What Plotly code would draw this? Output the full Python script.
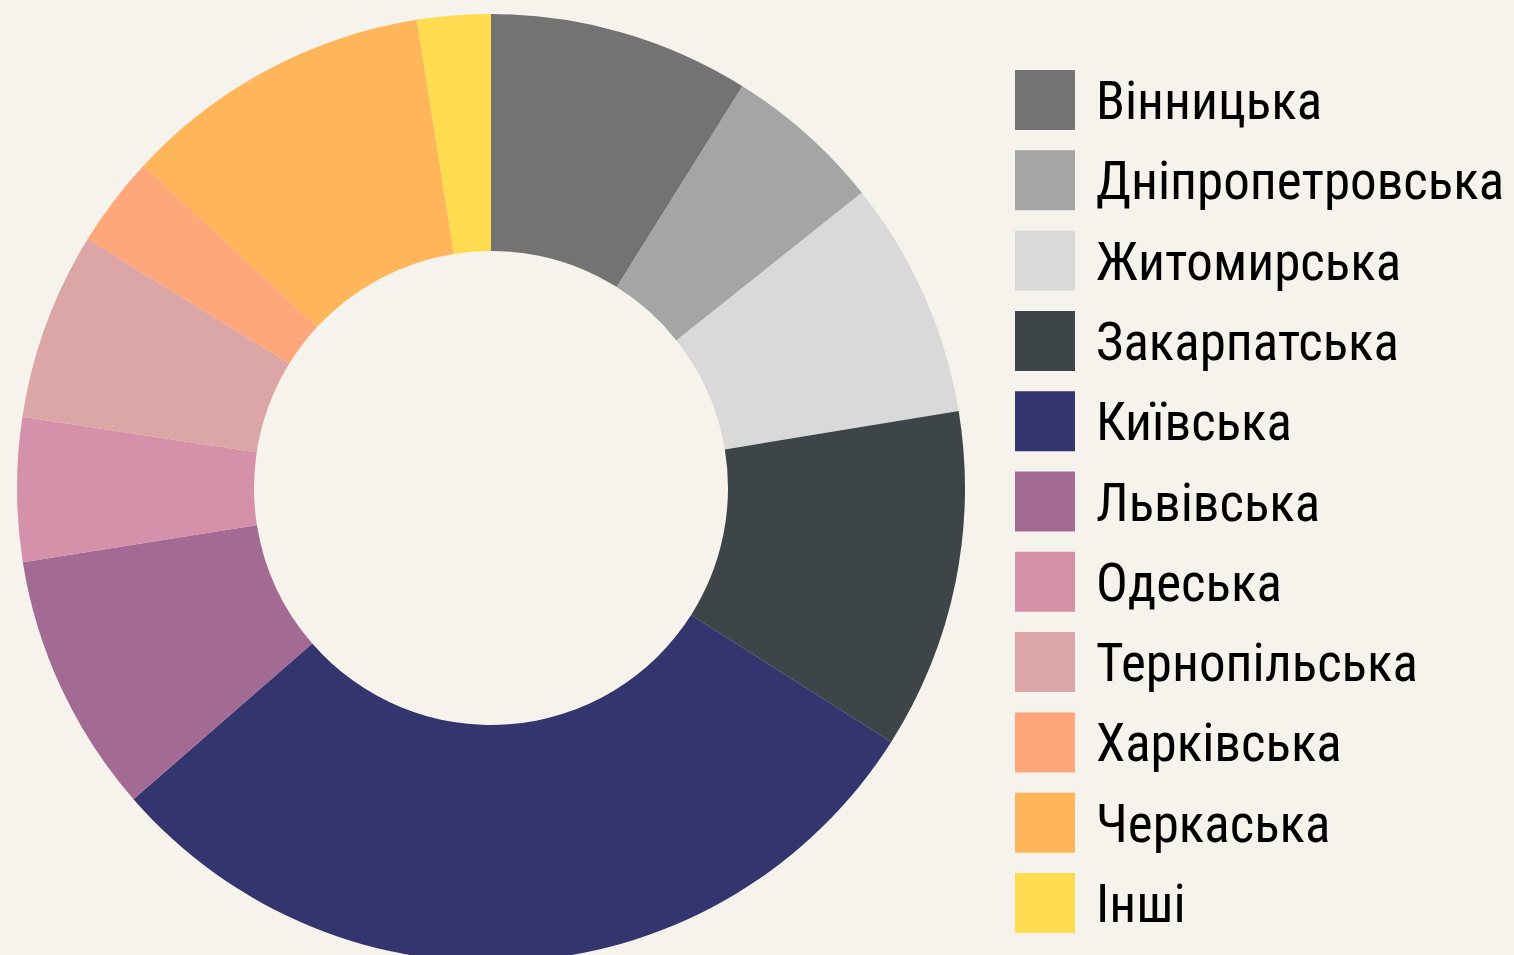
import plotly.graph_objects as go

labels = ["Вінницька", "Дніпропетровська", "Житомирська", "Закарпатська", "Київська",
          "Львівська", "Одеська", "Тернопільська", "Харківська", "Черкаська", "Інші"]
values = [8.9, 5.4, 8.1, 11.6, 29.6, 8.9, 4.9, 6.4, 3.1, 10.6, 2.5]
colors = ["#737373", "#a5a5a5", "#d9d9d9", "#3d4548", "#32356e",
          "#a36b93", "#d590aa", "#dba6a5", "#ffa67b", "#ffb55a", "#fedb4f"]

W, H = 1514, 976
BG = "#f5f3eb"

fig = go.Figure()
fig.add_trace(go.Pie(
    labels=labels, values=values, sort=False, direction="clockwise", rotation=0,
    hole=0.5, marker=dict(colors=colors, line=dict(width=0)),
    textinfo="none", showlegend=False,
    domain=dict(x=[17 / W, 965 / W], y=[0, 1]),
))

# custom legend: big squares + labels
shapes, annotations = [], []
for i, (lab, col) in enumerate(zip(labels, colors)):
    top = 70 + 80.3 * i
    shapes.append(dict(type="rect", xref="paper", yref="paper",
                       x0=1015 / W, x1=1075 / W, y0=1 - (top + 60) / H, y1=1 - top / H,
                       fillcolor=col, line=dict(width=0)))
    annotations.append(dict(text=lab, xref="paper", yref="paper", x=1094 / W,
                            y=1 - (top + 31) / H, xanchor="left", yanchor="middle",
                            showarrow=False,
                            font=dict(family="Roboto Condensed, Roboto", size=53, color="#000000")))

fig.update_layout(width=W, height=H, margin=dict(l=0, r=0, t=0, b=0),
                  paper_bgcolor=BG, plot_bgcolor=BG, shapes=shapes, annotations=annotations)
fig.write_html(
    "out.html",
    config={"displayModeBar": False},
    post_script=("document.body.style.margin='0';"
                 "document.body.style.overflow='hidden';"
                 "document.body.style.background='" + BG + "';"),
)
